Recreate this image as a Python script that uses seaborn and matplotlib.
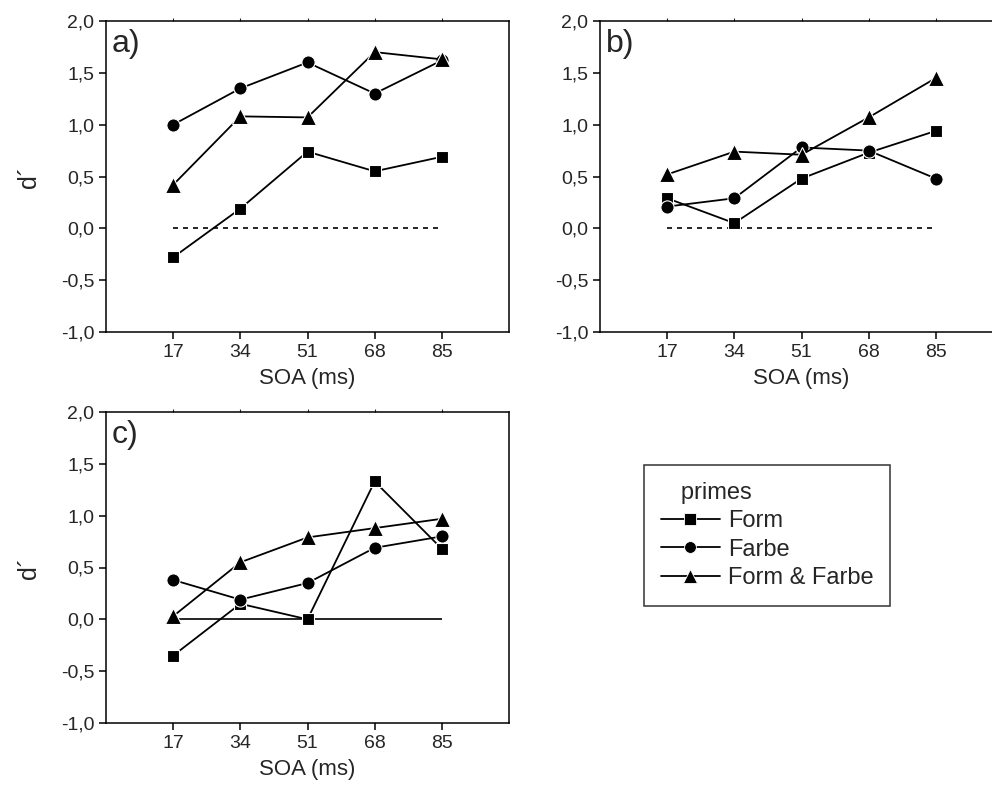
import numpy as np
import pandas as pd
import matplotlib
matplotlib.use("Agg")
import matplotlib.pyplot as plt
from matplotlib.lines import Line2D
import seaborn as sns

# --- data ---
SOA = [17, 34, 51, 68, 85]
PRIMES = ["Form", "Farbe", "Form & Farbe"]

a_form = [-0.28, 0.19, 0.74, 0.55, 0.69]
a_farbe = [1.00, 1.35, 1.60, 1.30, 1.62]
a_both = [0.42, 1.08, 1.07, 1.70, 1.63]

b_form = [0.29, 0.05, 0.48, 0.73, 0.94]
b_farbe = [0.21, 0.29, 0.78, 0.75, 0.48]
b_both = [0.52, 0.74, 0.71, 1.07, 1.45]

c_form = [-0.35, 0.15, 0.00, 1.33, 0.68]
c_farbe = [0.38, 0.19, 0.35, 0.69, 0.80]
c_both = [0.03, 0.55, 0.79, 0.88, 0.97]

Y_TICKS = [-1.0, -0.5, 0.0, 0.5, 1.0, 1.5, 2.0]

MARKERS = {"Form": "s", "Farbe": "o", "Form & Farbe": "^"}
MSIZE = {"Form": 9, "Farbe": 9.5, "Form & Farbe": 11}

sns.set_style("ticks")
plt.rcParams["font.family"] = ["Liberation Sans", "DejaVu Sans"]


def long_frame(form, farbe, both):
    rows = []
    for name, vals in zip(PRIMES, [form, farbe, both]):
        for s, v in zip(SOA, vals):
            rows.append({"SOA": s, "d": v, "primes": name})
    return pd.DataFrame(rows)


def draw_panel(ax, df, label, zero_style):
    for name in PRIMES:
        sub = df[df["primes"] == name]
        sns.lineplot(data=sub, x="SOA", y="d", marker=MARKERS[name],
                     color="black", linewidth=1.3, markersize=MSIZE[name],
                     markeredgecolor="white", markeredgewidth=0.8,
                     legend=False, ax=ax, zorder=3)
    ax.hlines(0, SOA[0], SOA[-1], colors="black", linewidth=1.2,
              linestyles=zero_style, zorder=2)
    ax.set_xlim(0, 102)
    ax.set_ylim(-1.0, 2.0)
    ax.set_xticks(SOA)
    ax.set_xticklabels([str(s) for s in SOA])
    ax.set_yticks(Y_TICKS)
    ax.set_yticklabels([f"{t:.1f}".replace(".", ",") for t in Y_TICKS])
    ax.tick_params(labelsize=14, length=5, width=1.1, color="black")
    for sp in ax.spines.values():
        sp.set_linewidth(1.1)
        sp.set_color("black")
    top = ax.secondary_xaxis("top")
    top.set_xticks(SOA)
    top.tick_params(length=2, width=0.8, labeltop=False)
    top.spines["top"].set_visible(False)
    ax.set_xlabel("SOA (ms)", fontsize=16, labelpad=5)
    ax.set_ylabel("d\u00b4", fontsize=18, labelpad=14)
    ax.text(0.015, 0.975, label, transform=ax.transAxes, fontsize=23,
            ha="left", va="top")


fig = plt.figure(figsize=(9.92, 7.88), dpi=100)
W, H = 992, 788
w, h = 403 / W, 311 / H
ax_a = fig.add_axes([106 / W, (H - 332) / H, w, h])
ax_b = fig.add_axes([600 / W, (H - 332) / H, w, h])
ax_c = fig.add_axes([106 / W, (H - 723) / H, w, h])

draw_panel(ax_a, long_frame(a_form, a_farbe, a_both), "a)", (0, (3, 3)))
draw_panel(ax_b, long_frame(b_form, b_farbe, b_both), "b)", (0, (3, 3)))
draw_panel(ax_c, long_frame(c_form, c_farbe, c_both), "c)", "solid")
ax_b.set_ylabel("")

handles = [Line2D([], [], color="black", linewidth=1.3, marker=MARKERS[p],
                  markersize=MSIZE[p] - 1, markeredgecolor="white",
                  markeredgewidth=0.6)
           for p in PRIMES]
leg = fig.legend(handles, PRIMES, title="   primes", loc="upper left",
                 bbox_to_anchor=(644 / W, 1 - 465 / H), borderaxespad=0,
                 fontsize=17, title_fontsize=17, frameon=True, fancybox=False,
                 edgecolor="black", handlelength=2.5, handletextpad=0.35,
                 borderpad=0.7, labelspacing=0.28, alignment="left")
leg.get_frame().set_linewidth(1.1)

fig.savefig("out.png", dpi=100)
